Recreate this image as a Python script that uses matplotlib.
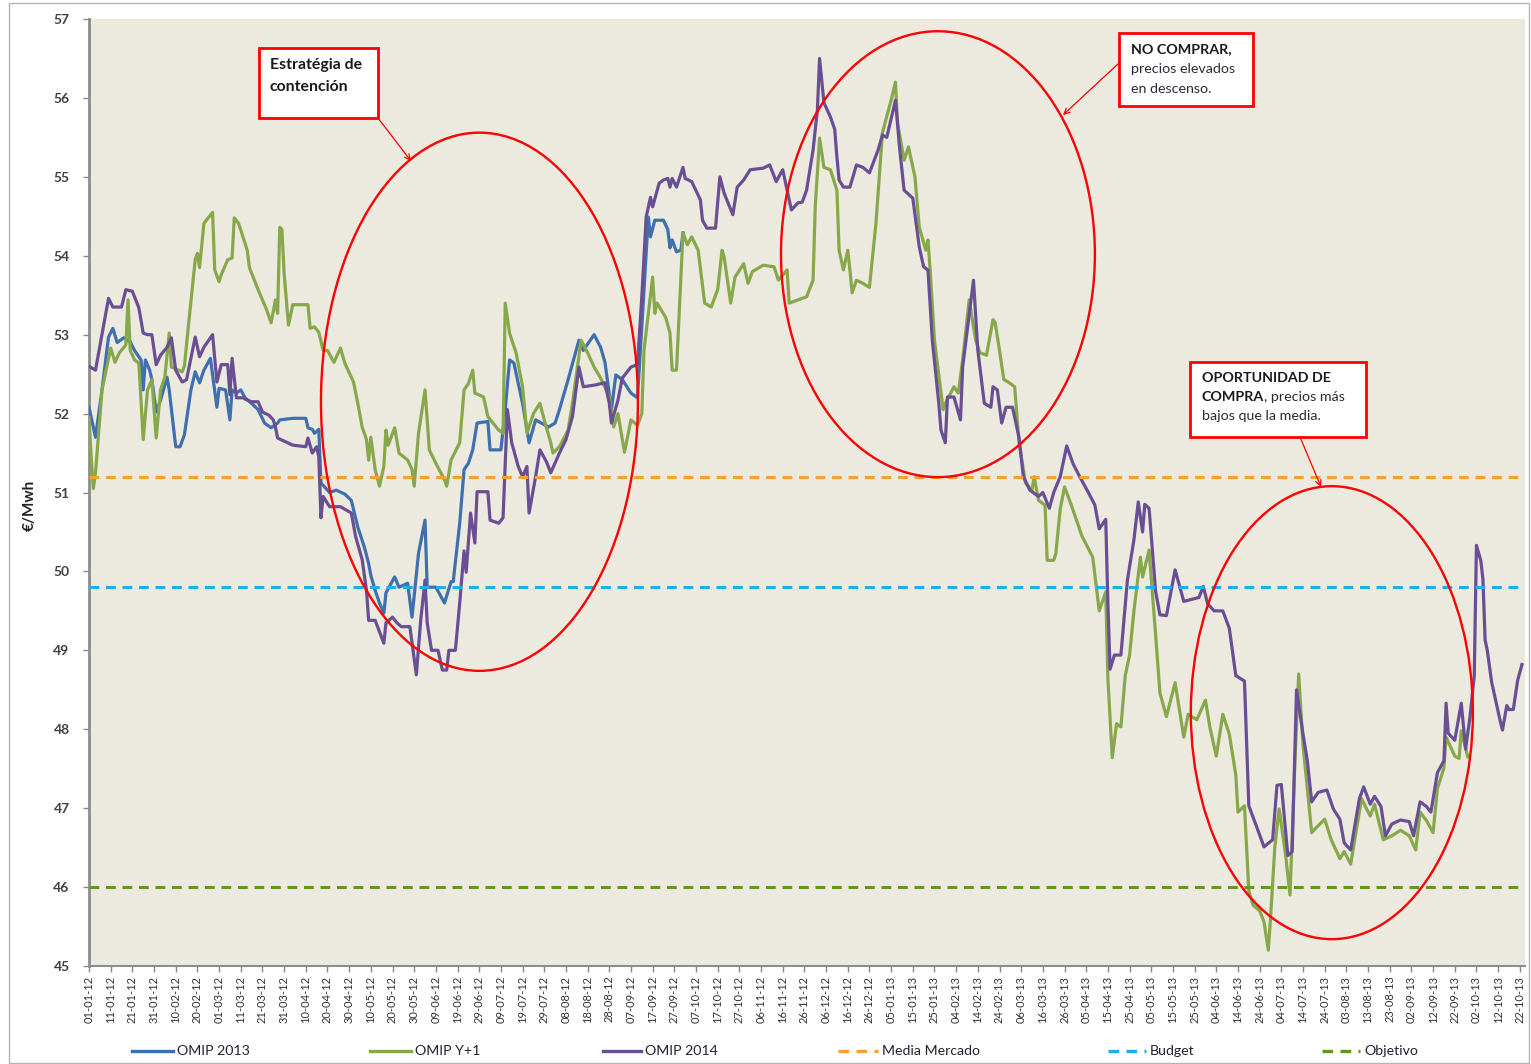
import matplotlib
matplotlib.use("Agg")
import matplotlib.pyplot as plt
from matplotlib.patches import Ellipse, Rectangle
from matplotlib.lines import Line2D

plt.rcParams['font.family'] = ['Lato', 'DejaVu Sans']

# ---------------- data ----------------
# x = days since 01-01-2012, y = EUR/MWh
tick_days = list(range(0, 661, 10))
tick_labels = [
    "01-01-12", "11-01-12", "21-01-12", "31-01-12", "10-02-12", "20-02-12", "01-03-12",
    "11-03-12", "21-03-12", "31-03-12", "10-04-12", "20-04-12", "30-04-12", "10-05-12",
    "20-05-12", "30-05-12", "09-06-12", "19-06-12", "29-06-12", "09-07-12", "19-07-12",
    "29-07-12", "08-08-12", "18-08-12", "28-08-12", "07-09-12", "17-09-12", "27-09-12",
    "07-10-12", "17-10-12", "27-10-12", "06-11-12", "16-11-12", "26-11-12", "06-12-12",
    "16-12-12", "26-12-12", "05-01-13", "15-01-13", "25-01-13", "04-02-13", "14-02-13",
    "24-02-13", "06-03-13", "16-03-13", "26-03-13", "05-04-13", "15-04-13", "25-04-13",
    "05-05-13", "15-05-13", "25-05-13", "04-06-13", "14-06-13", "24-06-13", "04-07-13",
    "14-07-13", "24-07-13", "03-08-13", "13-08-13", "23-08-13", "02-09-13", "12-09-13",
    "22-09-13", "02-10-13", "12-10-13", "22-10-13"]
y_ticks = list(range(45, 58))

omip2013_days = [0, 3, 6, 9, 11, 13, 16, 19, 21, 24, 25, 26, 28, 29, 31, 33, 36, 37, 40, 42,
                 44, 47, 49, 51, 53, 56, 59, 60, 63, 65, 66, 68, 70, 72, 75, 78, 81, 84, 87, 88,
                 94, 100, 101, 103, 104, 106, 107, 111, 114, 118, 121, 124, 127, 129, 130, 132,
                 134, 136, 137, 141, 143, 147, 149, 152, 155, 156, 160, 164, 167, 168, 171, 173,
                 175, 177, 179, 184, 185, 190, 192, 194, 196, 200, 203, 206, 212, 215, 217, 221,
                 226, 228, 233, 236, 238, 241, 243, 246, 250, 253, 255, 258, 259, 261, 265, 267,
                 268, 269, 271, 273, 274]
omip2013_vals = [52.08, 51.7, 52.3, 52.97, 53.08, 52.9, 52.96, 52.91, 52.8, 52.68, 52.3, 52.68,
                 52.55, 52.43, 52.02, 52.17, 52.46, 52.3, 51.58, 51.58, 51.73, 52.3, 52.53, 52.39,
                 52.55, 52.7, 52.08, 52.32, 52.3, 51.92, 52.3, 52.26, 52.3, 52.2, 52.13, 52.05,
                 51.88, 51.82, 51.88, 51.92, 51.94, 51.94, 51.82, 51.8, 51.75, 51.8, 51.12, 51.0,
                 51.03, 50.98, 50.9, 50.56, 50.31, 50.1, 49.95, 49.76, 49.6, 49.47, 49.73, 49.93,
                 49.8, 49.85, 49.42, 50.23, 50.65, 49.8, 49.8, 49.6, 49.87, 49.87, 50.61, 51.29,
                 51.37, 51.54, 51.88, 51.9, 51.54, 51.54, 52.05, 52.68, 52.64, 52.13, 51.63, 51.92,
                 51.83, 51.88, 52.05, 52.43, 52.93, 52.8, 53.0, 52.84, 52.65, 52.05, 52.49, 52.43,
                 52.26, 52.2, 53.1, 54.49, 54.24, 54.45, 54.45, 54.33, 54.1, 54.2, 54.05, 54.07,
                 54.29]

omip_y1_days = [0, 1, 2, 3, 6, 10, 12, 14, 17, 18, 19, 21, 23, 25, 27, 29, 31, 33, 35, 37, 38,
                43, 44, 46, 49, 50, 51, 53, 55, 57, 58, 60, 61, 64, 66, 67, 69, 71, 73, 74, 78,
                80, 82, 84, 86, 87, 88, 89, 90, 92, 94, 101, 102, 104, 106, 108, 110, 113, 116,
                118, 122, 124, 126, 128, 129, 130, 132, 134, 136, 137, 138, 141, 143, 147, 149,
                150, 152, 155, 157, 160, 164, 165, 167, 171, 173, 175, 177, 178, 182, 184, 189,
                191, 192, 194, 197, 200, 202, 205, 208, 210, 213, 214, 217, 221, 223, 227, 230,
                233, 236, 240, 242, 244, 247, 250, 253, 255, 256, 260, 261, 262, 266, 268, 269,
                271, 274, 276, 278, 281, 284, 287, 290, 292, 293, 296, 298, 302, 304, 306, 311,
                316, 318, 322, 323, 327, 331, 334, 335, 337, 339, 342, 345, 346, 348, 350, 351,
                352, 354, 357, 360, 363, 366, 370, 372, 373, 376, 378, 381, 383, 386, 387, 388,
                390, 394, 395, 399, 401, 403, 406, 409, 411, 414, 417, 418, 420, 422, 424, 427,
                429, 432, 435, 436, 438, 441, 442, 445, 446, 448, 450, 453, 458, 463, 466, 469,
                470, 472, 474, 476, 478, 480, 482, 485, 486, 489, 492, 494, 497, 501, 505, 507,
                511, 515, 517, 520, 523, 526, 529, 530, 533, 535, 537, 540, 542, 544, 545, 547,
                549, 552, 554, 556, 558, 560, 564, 566, 570, 573, 577, 579, 582, 587, 591, 593,
                597, 601, 605, 609, 612, 614, 617, 620, 622, 625, 626, 630, 632, 633, 636]
omip_y1_vals = [51.95, 51.45, 51.05, 51.25, 52.3, 52.83, 52.65, 52.77, 52.87, 53.44, 52.8, 52.68,
                52.64, 51.67, 52.3, 52.43, 51.69, 52.3, 52.46, 53.02, 52.59, 52.53, 52.6, 53.15,
                53.95, 54.03, 53.85, 54.41, 54.48, 54.55, 53.82, 53.67, 53.76, 53.95, 53.97,
                54.48, 54.41, 54.24, 54.07, 53.85, 53.57, 53.44, 53.31, 53.15, 53.44, 53.27,
                54.36, 54.33, 53.78, 53.12, 53.38, 53.38, 53.08, 53.1, 53.03, 52.8, 52.8, 52.65,
                52.83, 52.64, 52.4, 52.13, 51.83, 51.67, 51.41, 51.7, 51.29, 51.08, 51.33, 51.79,
                51.6, 51.82, 51.5, 51.41, 51.29, 51.08, 51.75, 52.3, 51.54, 51.37, 51.16, 51.08,
                51.41, 51.63, 52.3, 52.38, 52.55, 52.26, 52.21, 51.96, 51.79, 51.75, 53.4, 53.02,
                52.77, 52.34, 51.75, 52.0, 52.13, 51.92, 51.63, 51.5, 51.58, 51.79, 52.13, 52.93,
                52.77, 52.59, 52.45, 52.21, 51.83, 52.0, 51.51, 51.92, 51.85, 52.0, 52.8, 53.73,
                53.27, 53.4, 53.22, 53.02, 52.55, 52.55, 54.29, 54.14, 54.24, 54.07, 53.4, 53.35,
                53.57, 54.07, 53.98, 53.4, 53.73, 53.9, 53.65, 53.8, 53.88, 53.86, 53.69, 53.82,
                53.4, 53.44, 53.48, 53.69, 54.62, 55.49, 55.12, 55.09, 54.83, 54.07, 53.82, 54.07,
                53.82, 53.53, 53.69, 53.65, 53.6, 54.41, 55.56, 55.97, 56.2, 55.68, 55.21, 55.38,
                55.0, 54.36, 54.07, 54.2, 53.82, 52.93, 52.05, 52.13, 52.34, 52.26, 52.68, 53.44,
                52.93, 52.77, 52.74, 53.19, 53.15, 52.8, 52.43, 52.4, 52.34, 51.63, 51.12, 51.03,
                51.2, 50.9, 50.84, 50.14, 50.14, 50.23, 50.79, 51.07, 50.85, 50.45, 50.18, 49.5,
                49.74, 48.64, 47.64, 48.07, 48.03, 48.68, 48.94, 49.5, 50.18, 49.93, 50.27, 49.2,
                48.46, 48.16, 48.59, 47.9, 48.19, 48.12, 48.37, 48.03, 47.66, 48.19, 47.94, 47.42,
                46.95, 47.03, 45.95, 45.77, 45.7, 45.56, 45.2, 45.6, 46.51, 46.99, 46.4, 45.9,
                47.4, 48.7, 47.8, 46.69, 46.75, 46.86, 46.6, 46.36, 46.45, 46.29, 47.12, 46.9,
                47.05, 46.6, 46.65, 46.72, 46.65, 46.47, 46.95, 46.84, 46.69, 47.25, 47.51, 47.9,
                47.66, 47.63, 47.98, 47.65]

omip2014_days = [0, 3, 9, 11, 15, 17, 20, 23, 25, 27, 29, 31, 33, 36, 38, 40, 43, 45, 49, 51,
                 53, 57, 59, 61, 64, 65, 66, 68, 71, 73, 75, 78, 80, 83, 85, 86, 87, 94, 100, 101,
                 103, 105, 106, 107, 108, 111, 116, 121, 123, 126, 128, 129, 132, 136, 137, 140,
                 142, 144, 148, 151, 153, 155, 156, 158, 161, 163, 165, 166, 169, 171, 173, 174,
                 176, 178, 179, 184, 185, 189, 191, 193, 195, 198, 200, 202, 203, 206, 208, 211,
                 213, 217, 220, 223, 226, 228, 233, 238, 240, 241, 244, 246, 250, 253, 255, 257,
                 259, 260, 263, 265, 267, 268, 269, 271, 274, 275, 278, 282, 283, 285, 289, 291,
                 293, 297, 299, 302, 305, 311, 314, 317, 320, 324, 327, 329, 331, 334, 336, 337,
                 339, 342, 344, 345, 346, 348, 351, 354, 357, 360, 364, 366, 368, 372, 374, 376,
                 380, 383, 385, 387, 389, 392, 393, 395, 396, 399, 402, 403, 408, 410, 413, 416,
                 417, 419, 421, 423, 426, 429, 431, 434, 438, 440, 443, 445, 448, 451, 454, 457,
                 461, 464, 466, 469, 470, 471, 473, 476, 479, 482, 484, 486, 487, 489, 492, 494,
                 497, 501, 505, 512, 514, 516, 519, 523, 526, 529, 533, 535, 538, 542, 546, 548,
                 550, 553, 555, 557, 560, 562, 564, 567, 571, 574, 577, 579, 582, 586, 588, 591,
                 593, 596, 598, 601, 605, 609, 611, 614, 617, 619, 622, 625, 626, 627, 630, 633,
                 635, 637, 639, 640, 642, 643, 644, 645, 647, 649, 651, 652, 654, 655, 657, 659,
                 661]
omip2014_vals = [52.6, 52.55, 53.46, 53.35, 53.35, 53.57, 53.55, 53.34, 53.02, 53.0, 53.0, 52.62,
                 52.74, 52.84, 52.96, 52.55, 52.4, 52.43, 52.97, 52.72, 52.84, 53.0, 52.4, 52.62,
                 52.62, 52.24, 52.7, 52.2, 52.2, 52.17, 52.15, 52.15, 52.02, 51.98, 51.92, 51.83,
                 51.69, 51.6, 51.58, 51.69, 51.5, 51.58, 51.45, 50.68, 50.95, 50.82, 50.82, 50.74,
                 50.44, 50.15, 49.76, 49.38, 49.38, 49.09, 49.35, 49.42, 49.35, 49.3, 49.3, 48.69,
                 49.38, 49.89, 49.35, 49.0, 49.0, 48.75, 48.75, 49.0, 49.0, 49.6, 50.26, 49.99,
                 50.74, 50.36, 51.01, 51.01, 50.65, 50.61, 50.68, 52.05, 51.63, 51.33, 51.2, 51.33,
                 50.74, 51.2, 51.54, 51.39, 51.25, 51.5, 51.67, 51.96, 52.59, 52.34, 52.36, 52.39,
                 52.13, 51.88, 52.17, 52.45, 52.59, 52.62, 53.48, 54.49, 54.74, 54.62, 54.92, 54.96,
                 54.98, 54.87, 54.98, 54.87, 55.12, 54.98, 54.94, 54.71, 54.45, 54.35, 54.35, 55.0,
                 54.79, 54.52, 54.87, 54.96, 55.09, 55.11, 55.15, 54.94, 55.09, 54.58, 54.67, 54.68,
                 54.83, 55.34, 55.85, 56.5, 55.94, 55.76, 55.6, 55.25, 54.96, 54.87, 54.87, 55.15,
                 55.12, 55.05, 55.34, 55.53, 55.5, 55.97, 55.34, 54.83, 54.73, 54.11, 53.86, 53.82,
                 52.93, 52.13, 51.79, 51.63, 52.21, 52.21, 51.92, 52.59, 53.69, 52.8, 52.13, 52.08,
                 52.34, 52.3, 51.88, 52.08, 52.08, 51.7, 51.2, 51.03, 50.95, 51.0, 50.8, 51.0,
                 51.2, 51.59, 51.36, 51.2, 51.0, 50.84, 50.54, 50.66, 49.6, 48.76, 48.94, 48.94,
                 49.89, 50.4, 50.88, 50.5, 50.85, 50.8, 49.75, 49.45, 49.44, 50.02, 49.62, 49.67,
                 49.81, 49.59, 49.5, 49.5, 49.28, 48.68, 48.61, 47.03, 46.81, 46.51, 46.6, 47.29,
                 47.3, 46.4, 46.45, 48.5, 47.94, 47.6, 47.08, 47.2, 47.23, 46.99, 46.86, 46.56,
                 46.47, 47.12, 47.27, 47.05, 47.15, 47.02, 46.65, 46.8, 46.85, 46.83, 46.65, 47.08,
                 47.02, 46.95, 47.45, 47.6, 48.33, 47.95, 47.86, 48.33, 47.75, 48.15, 48.68, 50.33,
                 50.14, 49.9, 49.13, 49.0, 48.6, 48.35, 48.1, 47.99, 48.3, 48.25, 48.25, 48.62,
                 48.82]

media_mercado = 51.2
budget = 49.8
objetivo = 46.0

legend_names = ["OMIP 2013", "OMIP Y+1", "OMIP 2014", "Media Mercado", "Budget", "Objetivo"]

# ---------------- styling ----------------
c_2013 = "#3E6FAE"
c_y1 = "#87A84A"
c_2014 = "#6A4E94"
c_media = "#F9A12E"
c_budget = "#1BB0EC"
c_obj = "#5F9A1E"
dash = (3.2, 2.2)

W, H = 1531, 1064
fig = plt.figure(figsize=(W / 100, H / 100), dpi=100)
fig.patch.set_facecolor("white")
ax_l, ax_r, ax_t, ax_b = 89, 1525, 19, 966
ax = fig.add_axes([ax_l / W, 1 - ax_b / H, (ax_r - ax_l) / W, (ax_b - ax_t) / H])
ax.set_facecolor("#ECE9DF")

ax.plot(omip2013_days, omip2013_vals, color=c_2013, lw=2.3, zorder=3, solid_joinstyle="round")
ax.plot(omip_y1_days, omip_y1_vals, color=c_y1, lw=2.3, zorder=4, solid_joinstyle="round")
ax.plot(omip2014_days, omip2014_vals, color=c_2014, lw=2.3, zorder=5, solid_joinstyle="round")

for val, col in [(media_mercado, c_media), (budget, c_budget), (objetivo, c_obj)]:
    ax.axhline(val, color=col, lw=2.2, dashes=dash, zorder=6)

ax.set_xlim(0, 662.4)
ax.set_ylim(45, 57)
ax.set_yticks(y_ticks)
ax.set_yticklabels([str(v) for v in y_ticks], fontsize=10, fontweight="bold", color="#404040")
ax.set_xticks(tick_days)
ax.set_xticklabels(tick_labels, rotation=90, fontsize=8, color="#303030")
ax.tick_params(axis="both", direction="out", length=4, width=1, color="#8a8a8a")
ax.tick_params(axis="x", pad=3)
ax.tick_params(axis="y", pad=10)
for s in ["top", "right"]:
    ax.spines[s].set_visible(False)
ax.spines["left"].set_color("#8c8c8c")
ax.spines["left"].set_linewidth(2)
ax.spines["bottom"].set_color("#8c8c8c")
ax.spines["bottom"].set_linewidth(1.5)

fig.text(30 / W, 1 - 505 / H, "€/Mwh", rotation=90, ha="center", va="center",
         fontsize=11, fontweight="bold", color="#222222")

# ---------------- annotations ----------------
for (cx, cy, w, h) in [(180.1, 52.15, 146.2, 6.82), (391.6, 54.02, 144.8, 5.65),
                       (573.3, 48.21, 130.1, 5.74)]:
    ax.add_patch(Ellipse((cx, cy), w, h, fill=False, edgecolor="#FF0000", lw=1.7, zorder=8))


def px2ax(x, y):
    return ((x - ax_l) / (ax_r - ax_l), (ax_b - y) / (ax_b - ax_t))


def box(x0, y0, x1, y1):
    a0 = px2ax(x0, y1)
    a1 = px2ax(x1, y0)
    ax.add_patch(Rectangle(a0, a1[0] - a0[0], a1[1] - a0[1], transform=ax.transAxes,
                           facecolor="white", edgecolor="#FF0000", lw=2, zorder=9))


def arrow(x0, y0, x1, y1):
    ax.annotate("", xy=px2ax(x1, y1), xytext=px2ax(x0, y0), xycoords="axes fraction",
                textcoords="axes fraction",
                arrowprops=dict(arrowstyle="->", color="#FF0000", lw=0.9,
                                shrinkA=0, shrinkB=0, mutation_scale=10), zorder=9)


def line(x, y, s, bold=False, size=10.3):
    return ax.text(*px2ax(x, y), s, transform=ax.transAxes, ha="left", va="baseline",
                   fontsize=size, fontweight="bold" if bold else "normal",
                   color="#1a1a1a" if bold else "#2a2a3a", zorder=10)


# box 1
box(259, 48, 378, 118)
arrow(378, 118, 411, 161)
line(270, 69, "Estratégia de", bold=True, size=11.4)
line(270, 91, "contención", bold=True, size=11.4)
# box 2
box(1119, 33, 1253, 106)
arrow(1119, 63, 1063, 115)
line(1131, 53, "NO COMPRAR,", bold=True)
line(1131, 73, "precios elevados")
line(1131, 93, "en descenso.")
# box 3
box(1190, 362, 1366, 437)
arrow(1300, 437, 1321, 487)
line(1202, 382, "OPORTUNIDAD DE", bold=True)
t_c = line(1202, 401, "COMPRA", bold=True)
ax.annotate(", precios más", xy=(1, 0), xycoords=t_c, ha="left", va="bottom",
            fontsize=10.3, color="#2a2a3a", zorder=10)
line(1202, 420, "bajos que la media.")

# ---------------- legend ----------------
leg_y = 1051
leg_items = [(132, 173, c_2013, None), (370, 411, c_y1, None), (603, 641, c_2014, None),
             (838, 878, c_media, dash), (1108, 1146, c_budget, dash), (1322, 1360, c_obj, dash)]
for name, (x0, x1, col, d) in zip(legend_names, leg_items):
    ln = Line2D([x0 / W, x1 / W], [1 - leg_y / H, 1 - leg_y / H], transform=fig.transFigure,
                color=col, lw=2.4)
    if d is not None:
        ln.set_dashes(d)
    fig.add_artist(ln)
    fig.text((x1 + 4) / W, 1 - leg_y / H, name, ha="left", va="center", fontsize=10.2,
             color="#222233")

# outer frame
fig.add_artist(Rectangle((9 / W, 1 / H), (1529 - 9) / W, (1061 - 1) / H,
                         transform=fig.transFigure, fill=False, edgecolor="#b5b5b5", lw=1))

fig.savefig("out.png", dpi=100)
